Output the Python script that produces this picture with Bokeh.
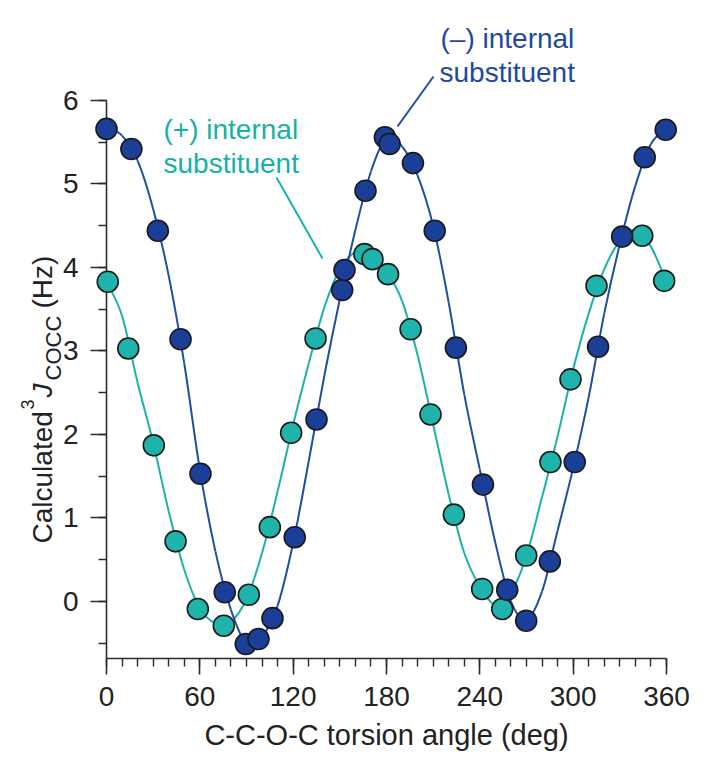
import math
from bokeh.plotting import figure
from bokeh.models import Range1d, SingleIntervalTicker
from bokeh.core.properties import value
from bokeh.embed import file_html
from bokeh.resources import INLINE

# ---------------- data ----------------
# (-) internal substituent : calculated points
minus_deg = [0, 16, 33, 47.6, 60.4, 76, 89.5, 97.7, 106.7, 121, 135, 151.5, 153,
             166.5, 179, 182, 197, 211, 224.6, 242, 257.6, 269.8, 285, 301, 316,
             331.5, 346, 359.5]
minus_j = [5.66, 5.42, 4.44, 3.14, 1.53, 0.11, -0.51, -0.45, -0.20, 0.77, 2.18, 3.73, 3.97,
           4.92, 5.56, 5.48, 5.25, 4.44, 3.04, 1.40, 0.14, -0.23, 0.48, 1.67, 3.05,
           4.37, 5.32, 5.65]

# (+) internal substituent : calculated points
plus_deg = [0.8, 14, 30.4, 44.4, 58.7, 75.4, 91.5, 105, 118.7, 134.4, 165.8, 171,
            181, 195.5, 208.3, 223.3, 241.5, 254.4, 269.8, 285.4, 298.3, 315, 344.4, 358.5]
plus_j = [3.83, 3.03, 1.87, 0.72, -0.09, -0.29, 0.08, 0.89, 2.02, 3.15, 4.16, 4.10,
          3.92, 3.26, 2.24, 1.04, 0.15, -0.09, 0.55, 1.67, 2.66, 3.78, 4.38, 3.84]

# fitted curves at these angles
curve_deg = [0, 10, 20, 30, 40, 50, 60, 70, 80, 90, 100, 110, 120, 130, 140, 150, 160,
             170, 180, 190, 200, 210, 220, 230, 240, 250, 260, 270, 280, 290, 300, 310,
             320, 330, 340, 350, 360]
minus_curve = [5.68, 5.58, 5.28, 4.70, 3.90, 2.85, 1.58, 0.60, -0.10, -0.50, -0.42, -0.05,
               0.70, 1.68, 2.70, 3.62, 4.45, 5.15, 5.55, 5.45, 5.10, 4.50, 3.58, 2.48,
               1.58, 0.70, 0.00, -0.22, 0.12, 0.85, 1.60, 2.45, 3.45, 4.28, 4.98, 5.48, 5.66]
plus_curve = [3.83, 3.42, 2.62, 1.90, 1.08, 0.38, -0.08, -0.26, -0.24, 0.03, 0.58, 1.32,
              2.12, 2.85, 3.52, 3.98, 4.18, 4.14, 3.95, 3.60, 2.95, 2.12, 1.28, 0.58,
              0.18, -0.04, 0.10, 0.55, 1.25, 1.98, 2.78, 3.45, 3.98, 4.32, 4.45, 4.25, 3.83]

x_tick_step = 60
y_tick_step = 1

# ---------------- style ----------------
BLUE_FILL = "#1b3f98"
BLUE_LINE = "#1f4ea2"
TEAL_FILL = "#1eb4ab"
TEAL_LINE = "#1ab3aa"
BLUE_TEXT = "#1f4a9c"
TEAL_TEXT = "#16b1a8"
AXIS = "#2b2b2b"
TXT = "#222222"
FONT = "Liberation Sans"

W, H = 704, 768
BL, BR, BT, BB = 106, 38, 100, 110
X0, X1 = 0, 360
Y0, Y1 = -0.683, 6.0

p = figure(width=W, height=H, x_range=Range1d(X0, X1), y_range=Range1d(Y0, Y1),
           output_backend="svg", toolbar_location=None,
           min_border_left=BL, min_border_right=BR, min_border_top=BT, min_border_bottom=BB)
p.outline_line_color = None
p.grid.visible = False
p.background_fill_color = "white"
p.border_fill_color = "white"

# axes
p.xaxis.ticker = SingleIntervalTicker(interval=x_tick_step, num_minor_ticks=6)
p.yaxis.ticker = SingleIntervalTicker(interval=y_tick_step, num_minor_ticks=2)
for ax in (p.xaxis, p.yaxis):
    ax.axis_line_color = AXIS
    ax.axis_line_width = 1.6
    ax.major_tick_line_color = AXIS
    ax.minor_tick_line_color = AXIS
    ax.major_tick_line_width = 1.6
    ax.minor_tick_line_width = 1.4
    ax.major_tick_in = 0
    ax.minor_tick_in = 0
    ax.major_tick_out = 16
    ax.minor_tick_out = 8
    ax.major_label_text_font = FONT
    ax.major_label_text_font_size = "28px"
    ax.major_label_text_color = TXT
p.xaxis.major_label_standoff = 12
p.yaxis.major_label_standoff = 12
p.xaxis.axis_label = "C-C-O-C torsion angle (deg)"
p.xaxis.axis_label_text_font = FONT
p.xaxis.axis_label_text_font_size = "29px"
p.xaxis.axis_label_text_font_style = "normal"
p.xaxis.axis_label_text_color = TXT
p.xaxis.axis_label_standoff = 10


def catmull_bezier(xs, ys):
    n = len(xs)
    P = list(zip(xs, ys))
    first = (2 * P[0][0] - P[1][0], 2 * P[0][1] - P[1][1])
    last = (2 * P[-1][0] - P[-2][0], 2 * P[-1][1] - P[-2][1])
    ext = [first] + P + [last]
    out = dict(x0=[], y0=[], x1=[], y1=[], cx0=[], cy0=[], cx1=[], cy1=[])
    for i in range(n - 1):
        p0, p1, p2, p3 = ext[i], ext[i + 1], ext[i + 2], ext[i + 3]
        out["x0"].append(p1[0]); out["y0"].append(p1[1])
        out["x1"].append(p2[0]); out["y1"].append(p2[1])
        out["cx0"].append(p1[0] + (p2[0] - p0[0]) / 6.0)
        out["cy0"].append(p1[1] + (p2[1] - p0[1]) / 6.0)
        out["cx1"].append(p2[0] - (p3[0] - p1[0]) / 6.0)
        out["cy1"].append(p2[1] - (p3[1] - p1[1]) / 6.0)
    return out


bt = catmull_bezier(curve_deg, plus_curve)
p.bezier(x0=bt["x0"], y0=bt["y0"], x1=bt["x1"], y1=bt["y1"],
         cx0=bt["cx0"], cy0=bt["cy0"], cx1=bt["cx1"], cy1=bt["cy1"],
         line_color=TEAL_LINE, line_width=2)
bb = catmull_bezier(curve_deg, minus_curve)
p.bezier(x0=bb["x0"], y0=bb["y0"], x1=bb["x1"], y1=bb["y1"],
         cx0=bb["cx0"], cy0=bb["cy0"], cx1=bb["cx1"], cy1=bb["cy1"],
         line_color=BLUE_LINE, line_width=2)

# pixel -> data helper for annotation placement (frame: 560 x 558 px)
FW, FH = W - BL - BR, H - BT - BB


def dx(px):
    return X0 + (px - BL) * (X1 - X0) / FW


def dy(py):
    return Y1 - (py - BT) * (Y1 - Y0) / FH


def add_text(text, px, py, size, color, angle=0.0, style="normal"):
    r = p.text(x=[dx(px)], y=[dy(py)], text=[text], angle=angle,
               text_font=value(FONT), text_font_size=value(f"{size}px"),
               text_color=color, text_font_style=style,
               text_align="left", text_baseline="alphabetic")
    r.level = "overlay"


def add_leader(px0, py0, px1, py1, color):
    r = p.segment(x0=[dx(px0)], y0=[dy(py0)], x1=[dx(px1)], y1=[dy(py1)],
                  line_color=color, line_width=2)
    r.level = "overlay"


# leader lines (under points)
add_leader(276, 177, 322, 258, TEAL_LINE)
add_leader(433, 76, 397, 126, BLUE_LINE)

r1 = p.scatter(plus_deg, plus_j, size=21, fill_color=TEAL_FILL, line_color="#1a1a1a",
               line_width=1.6)
r1.level = "overlay"
r2 = p.scatter(minus_deg, minus_j, size=21, fill_color=BLUE_FILL, line_color="#1a1a1a",
               line_width=1.6)
r2.level = "overlay"

# series annotations
add_text("(+) internal", 163, 129, 28, TEAL_TEXT)
add_text("substituent", 163, 163, 28, TEAL_TEXT)
add_text("(\u2013) internal", 440, 38, 28, BLUE_TEXT)
add_text("substituent", 439, 72, 28, BLUE_TEXT)

# y-axis title, built from pieces (superscript 3, italic J, subscript COCC)
ang = math.pi / 2
add_text("Calculated", 42, 543, 28, TXT, ang)
add_text("3", 27, 409, 18, TXT, ang)
add_text("J", 42, 397, 28, TXT, ang, style="italic")
add_text("COCC", 53, 380, 22, TXT, ang)
add_text("(Hz)", 42, 308, 28, TXT, ang)

open("out.html", "w").write(file_html(p, INLINE))
